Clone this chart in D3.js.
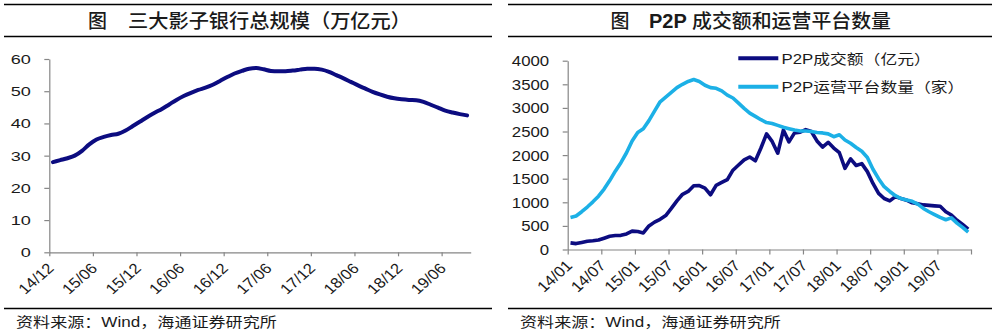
<!DOCTYPE html>
<html><head><meta charset="utf-8">
<script src="https://cdn.jsdelivr.net/npm/d3@7"></script>
<style>
body{margin:0;background:#fff;}
svg{display:block;}
</style></head><body>
<svg id="c" width="1000" height="333"></svg>
<script>
// ---------- data: left chart (三大影子银行总规模, 万亿元) ----------
const shadowMonths = ["14/12","15/01","15/02","15/03","15/04","15/05","15/06","15/07","15/08","15/09","15/10","15/11","15/12",
"16/01","16/02","16/03","16/04","16/05","16/06","16/07","16/08","16/09","16/10","16/11","16/12",
"17/01","17/02","17/03","17/04","17/05","17/06","17/07","17/08","17/09","17/10","17/11","17/12",
"18/01","18/02","18/03","18/04","18/05","18/06","18/07","18/08","18/09","18/10","18/11","18/12",
"19/01","19/02","19/03","19/04","19/05","19/06","19/07","19/08","19/09"];
const shadowScale = [28.0,28.6,29.2,30.0,31.5,33.5,35.0,35.8,36.4,36.8,37.8,39.2,40.6,
42.0,43.3,44.5,45.9,47.3,48.5,49.5,50.4,51.1,52.0,53.2,54.4,
55.5,56.3,57.0,57.2,56.8,56.3,56.2,56.2,56.4,56.7,57.0,57.0,
56.7,56.0,55.0,54.0,52.9,51.8,50.8,49.8,49.0,48.3,47.8,47.5,
47.3,47.2,46.7,45.8,44.9,44.0,43.4,42.9,42.5];
const shadowTicks = ["14/12","15/06","15/12","16/06","16/12","17/06","17/12","18/06","18/12","19/06"];
const shadowYTicks = [0,10,20,30,40,50,60];

// ---------- data: right chart (P2P) ----------
const p2pMonths = ["14/01","14/02","14/03","14/04","14/05","14/06","14/07","14/08","14/09","14/10","14/11","14/12",
"15/01","15/02","15/03","15/04","15/05","15/06","15/07","15/08","15/09","15/10","15/11","15/12",
"16/01","16/02","16/03","16/04","16/05","16/06","16/07","16/08","16/09","16/10","16/11","16/12",
"17/01","17/02","17/03","17/04","17/05","17/06","17/07","17/08","17/09","17/10","17/11","17/12",
"18/01","18/02","18/03","18/04","18/05","18/06","18/07","18/08","18/09","18/10","18/11","18/12",
"19/01","19/02","19/03","19/04","19/05","19/06","19/07","19/08","19/09","19/10","19/11","19/12"];
const p2pVolume = [140,125,150,175,185,200,240,280,295,300,330,390,
380,350,500,580,640,720,870,1030,1170,1230,1350,1355,
1300,1160,1360,1420,1480,1680,1790,1900,1960,1880,2150,2450,
2290,2040,2530,2280,2470,2485,2540,2500,2300,2170,2270,2150,
2050,1720,1920,1780,1820,1650,1400,1190,1080,1030,1120,1080,
1045,990,970,945,935,925,915,800,730,620,530,430];
const p2pPlatforms = [680,710,800,900,1010,1130,1280,1460,1660,1840,2050,2300,
2480,2560,2730,2930,3130,3230,3330,3430,3500,3560,3600,3560,
3480,3430,3415,3360,3270,3210,3100,2990,2890,2820,2750,2690,
2670,2630,2590,2560,2530,2510,2510,2500,2480,2470,2450,2390,
2430,2320,2250,2160,2080,1950,1700,1500,1330,1230,1140,1080,
1050,1020,960,870,800,740,680,630,670,560,470,370];
const p2pTicks = ["14/01","14/07","15/01","15/07","16/01","16/07","17/01","17/07","18/01","18/07","19/01","19/07"];
const p2pYTicks = [0,500,1000,1500,2000,2500,3000,3500,4000];
const p2pSeriesNames = ["P2P成交额（亿元）","P2P运营平台数量（家）"];

const titleLeft = ["图","三大影子银行总规模（万亿元）"];
const titleRight = ["图","P2P","成交额和运营平台数量"];
const sourceText = "资料来源：Wind，海通证券研究所";

// ---------- styles ----------
const NAVY = "#0c0c80", SKY = "#1cb0e6", AXIS = "#868686", INK = "#1a1a1a";
const LATIN = "'Liberation Sans', Arial, 'Noto Sans CJK SC', sans-serif";
const CJK = "'Noto Sans CJK SC', 'Liberation Sans', sans-serif";
const MIX = "'Liberation Sans', 'Noto Sans CJK SC', sans-serif";

const svg = d3.select("#c");

// ---------- frame rules, titles, sources ----------
function frame(x0, x1){
  [4.5, 36.5, 308.5].forEach(y => svg.append("line")
    .attr("x1", x0).attr("x2", x1).attr("y1", y).attr("y2", y)
    .attr("stroke", "#000").attr("stroke-width", 1.3));
}
frame(4, 492);
frame(508, 992);

svg.append("text").attr("x", 88).attr("y", 28).attr("font-family", CJK).attr("font-size", 19)
  .attr("font-weight", 500).attr("fill", INK).text(titleLeft[0]);
svg.append("text").attr("x", 128).attr("y", 28).attr("font-family", CJK).attr("font-size", 19)
  .attr("font-weight", 500).attr("fill", INK).attr("textLength", 283).attr("lengthAdjust", "spacingAndGlyphs")
  .text(titleLeft[1]);

svg.append("text").attr("x", 610.5).attr("y", 28).attr("font-family", CJK).attr("font-size", 19)
  .attr("font-weight", 500).attr("fill", INK).text(titleRight[0]);
svg.append("text").attr("x", 649).attr("y", 28).attr("font-family", LATIN).attr("font-size", 20)
  .attr("font-weight", "bold").attr("fill", INK).text(titleRight[1]);
svg.append("text").attr("x", 692).attr("y", 28).attr("font-family", CJK).attr("font-size", 19)
  .attr("font-weight", 500).attr("fill", INK).attr("textLength", 199).attr("lengthAdjust", "spacingAndGlyphs")
  .text(titleRight[2]);

[16, 520].forEach(x => svg.append("text")
  .attr("transform", `translate(${x},327) scale(1.22,1)`)
  .attr("font-family", MIX).attr("font-size", 14).attr("fill", INK).text(sourceText));

// ---------- helpers ----------
function styleAxis(g){
  g.select(".domain").attr("stroke", AXIS).attr("stroke-width", 1.2);
  g.selectAll(".tick line").attr("stroke", AXIS).attr("stroke-width", 1.2);
  g.selectAll(".tick text").attr("fill", INK).attr("font-family", LATIN);
}
function yLabels(g, fs, sx, off, dy){
  g.selectAll(".tick text").attr("x", 0).attr("dy", 0).attr("font-size", fs)
    .attr("text-anchor", "end")
    .attr("transform", `translate(${-off},${dy}) scale(${sx},1)`);
}
function xLabels(g, fs, sx, dx, dy){
  g.selectAll(".tick text").attr("y", 0).attr("dy", 0).attr("font-size", fs)
    .attr("text-anchor", "end")
    .attr("transform", `translate(${dx},${dy}) scale(${sx},1) rotate(-45)`);
}

// ---------- left chart ----------
{
  const x = d3.scaleLinear().domain([0, shadowMonths.length]).range([49.3, 470.7]);
  const y = d3.scaleLinear().domain([0, 60]).range([252.3, 59]);
  const gy = svg.append("g").attr("transform", "translate(49.3,0)")
    .call(d3.axisLeft(y).tickValues(shadowYTicks).tickFormat(d3.format("d")).tickSize(5).tickSizeOuter(0));
  styleAxis(gy); yLabels(gy, 12.5, 1.45, 18.5, 4.5);
  const tickIdx = shadowTicks.map(t => shadowMonths.indexOf(t));
  const gx = svg.append("g").attr("transform", "translate(0,252.3)")
    .call(d3.axisBottom(x).tickValues(tickIdx).tickFormat((d, i) => shadowTicks[i]).tickSize(4).tickSizeOuter(0));
  styleAxis(gx); xLabels(gx, 14.5, 1.15, 5, 17);
  const line = d3.line().x((d, i) => x(i + 0.5)).y(d => y(d)).curve(d3.curveMonotoneX);
  svg.append("path").datum(shadowScale).attr("d", line).attr("fill", "none")
    .attr("stroke", NAVY).attr("stroke-width", 4).attr("stroke-linejoin", "round").attr("stroke-linecap", "round");
}

// ---------- right chart ----------
{
  const n = p2pMonths.length;
  const x = d3.scaleLinear().domain([0, n]).range([567.7, 971]);
  const y = d3.scaleLinear().domain([0, 4000]).range([249.5, 60.7]);
  const gy = svg.append("g").attr("transform", "translate(567.7,0)")
    .call(d3.axisLeft(y).tickValues(p2pYTicks).tickFormat(d3.format("d")).tickSize(5).tickSizeOuter(0));
  styleAxis(gy); yLabels(gy, 14, 1.2, 18.5, 5);
  const tickIdx = p2pTicks.map(t => p2pMonths.indexOf(t)).concat([n]);
  const gx = svg.append("g").attr("transform", "translate(0,249.5)")
    .call(d3.axisBottom(x).tickValues(tickIdx).tickFormat((d, i) => p2pTicks[i] || "").tickSize(5).tickSizeOuter(0));
  styleAxis(gx); xLabels(gx, 15, 1.1, 5, 17);
  const line = d3.line().x((d, i) => x(i + 0.5)).y(d => y(d));
  [[p2pVolume, NAVY], [p2pPlatforms, SKY]].forEach(([data, c]) => {
    svg.append("path").datum(data).attr("d", line).attr("fill", "none")
      .attr("stroke", c).attr("stroke-width", 3.6).attr("stroke-linejoin", "round");
  });
  // legend
  const leg = svg.append("g");
  [[p2pSeriesNames[0], NAVY, 58.3], [p2pSeriesNames[1], SKY, 86.7]].forEach(([name, c, ly]) => {
    leg.append("line").attr("x1", 738.3).attr("x2", 778.3).attr("y1", ly).attr("y2", ly)
      .attr("stroke", c).attr("stroke-width", 4);
    leg.append("text").attr("transform", `translate(781.5,${ly + 5.2}) scale(1.2,1)`)
      .attr("font-family", MIX).attr("font-size", 14).attr("fill", INK).text(name);
  });
}
</script>
</body></html>
